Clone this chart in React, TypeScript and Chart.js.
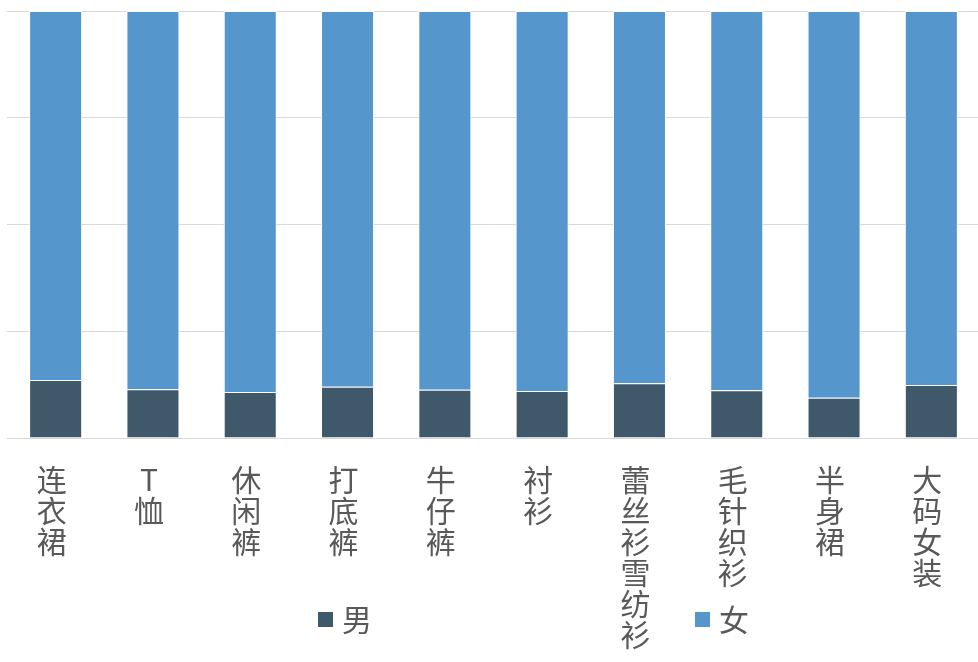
import React, { useEffect, useRef } from "react";
import { Chart, registerables } from "chart.js";

Chart.register(...registerables);

const categories: string[][] = [
  ["连", "衣", "裙"],
  ["T", "恤"],
  ["休", "闲", "裤"],
  ["打", "底", "裤"],
  ["牛", "仔", "裤"],
  ["衬", "衫"],
  ["蕾", "丝", "衫", "雪", "纺", "衫"],
  ["毛", "针", "织", "衫"],
  ["半", "身", "裙"],
  ["大", "码", "女", "装"],
];

const maleValues = [13.6, 11.4, 10.8, 12.0, 11.3, 11.0, 12.8, 11.2, 9.4, 12.4];
const femaleValues = [86.4, 88.6, 89.2, 88.0, 88.7, 89.0, 87.2, 88.8, 90.6, 87.6];

const seriesNames = ["男", "女"];
const seriesColors = ["#3F596B", "#5596CC"];

const FONT = "'Noto Sans CJK SC', 'Noto Sans', sans-serif";
const TEXT_COLOR = "#595959";

const legendPlugin = {
  id: "customLegend",
  afterDraw(chart: any) {
    const ctx = chart.ctx;
    const positions = [318, 695];
    const yCenter = 620;
    ctx.save();
    ctx.font = `30px ${FONT}`;
    ctx.textBaseline = "middle";
    ctx.textAlign = "left";
    chart.data.datasets.forEach((ds: any, i: number) => {
      const x = positions[i];
      ctx.fillStyle = ds.backgroundColor;
      ctx.fillRect(x, yCenter - 8, 15, 15);
      ctx.fillStyle = TEXT_COLOR;
      ctx.fillText(ds.label, x + 24, yCenter);
    });
    ctx.restore();
  },
};

export default function App() {
  const canvasRef = useRef<HTMLCanvasElement | null>(null);

  useEffect(() => {
    document.body.style.margin = "0";
    const canvas = canvasRef.current;
    if (!canvas) return;
    const chart = new Chart(canvas, {
      type: "bar",
      data: {
        labels: categories,
        datasets: [
          {
            label: seriesNames[0],
            data: maleValues,
            backgroundColor: seriesColors[0],
            borderColor: "#FFFFFF",
            borderWidth: 1,
          },
          {
            label: seriesNames[1],
            data: femaleValues,
            backgroundColor: seriesColors[1],
            borderColor: "#FFFFFF",
            borderWidth: 1,
          },
        ],
      },
      options: {
        animation: false,
        responsive: true,
        maintainAspectRatio: false,
        layout: { padding: { left: 7, top: 11, right: 0, bottom: 13 } },
        datasets: {
          bar: { categoryPercentage: 1, barPercentage: 0.545 },
        },
        plugins: {
          legend: { display: false },
          tooltip: { enabled: false },
        },
        scales: {
          x: {
            stacked: true,
            grid: { display: false, drawTicks: false },
            border: { display: true, color: "#D9D9D9", width: 1 },
            ticks: {
              color: TEXT_COLOR,
              font: { family: FONT, size: 30, lineHeight: "31px" as any },
              padding: 26,
              labelOffset: -4,
              maxRotation: 0,
              minRotation: 0,
              autoSkip: false,
            },
          },
          y: {
            stacked: true,
            min: 0,
            max: 100,
            ticks: { display: false, stepSize: 25 },
            grid: { color: "#D9D9D9", lineWidth: 1, drawTicks: false },
            border: { display: false },
          },
        },
      },
      plugins: [legendPlugin],
    });
    return () => chart.destroy();
  }, []);

  return (
    <div style={{ width: 978, height: 662, overflow: "hidden", position: "relative" }}>
      <div style={{ width: 980, height: 689, position: "relative" }}>
        <canvas ref={canvasRef} />
      </div>
    </div>
  );
}
